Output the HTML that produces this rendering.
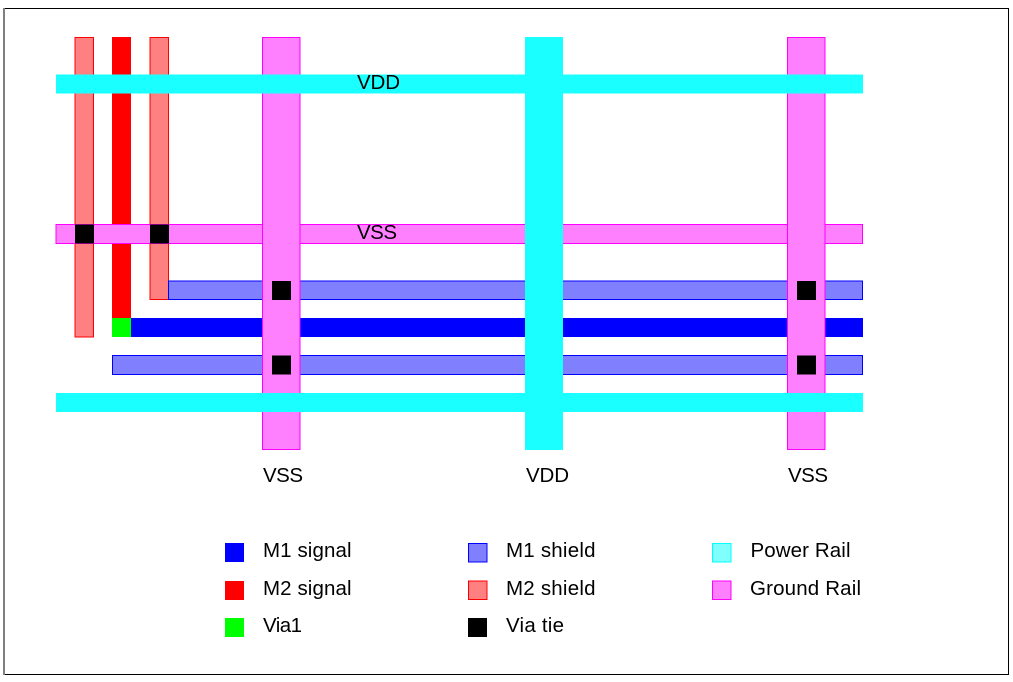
<!DOCTYPE html>
<html>
<head>
<meta charset="utf-8">
<style>
html,body{margin:0;padding:0;background:#fff;width:1013px;height:682px;overflow:hidden}
svg{display:block}
text{font-family:"Liberation Sans",sans-serif;font-size:20.5px;fill:#000}
.sr{fill:#ff8080;stroke:#ff0000;stroke-width:1}
.sb{fill:#8080ff;stroke:#0000ff;stroke-width:1}
.g{fill:#ff80ff;stroke:#ff00ff;stroke-width:1}
</style>
</head>
<body>
<svg width="1013" height="682" viewBox="0 0 1013 682" xmlns="http://www.w3.org/2000/svg">
<!-- Frame -->
<rect x="3" y="8" width="1006" height="1" fill="#000"/>
<rect x="3" y="674" width="1006" height="1" fill="#000"/>
<rect x="1008" y="8" width="1" height="667" fill="#000"/>
<rect x="3" y="8" width="2" height="667" fill="#808080"/>

<!-- M2 -->
<rect class="sr" x="75" y="37.5" width="18.5" height="299.5"/>
<rect class="sr" x="150" y="37.5" width="18.5" height="262"/>
<rect x="112" y="37" width="19" height="282" fill="#ff0000"/>

<!-- M1 -->
<rect class="sb" x="168.5" y="281" width="694" height="18.5"/>
<rect x="112" y="318" width="751" height="19" fill="#0000ff"/>
<rect class="sb" x="112.5" y="355.5" width="750" height="19"/>
<rect x="112" y="318" width="19" height="19" fill="#00ff00"/>

<!-- VSS horizontal -->
<rect class="g" x="56" y="224.5" width="806.5" height="19"/>
<rect x="75" y="224.5" width="19" height="19" fill="#000"/>
<rect x="150" y="224.5" width="19" height="19" fill="#000"/>

<!-- VSS vertical -->
<rect class="g" x="262.5" y="37.5" width="37.5" height="412"/>
<rect class="g" x="787.5" y="37.5" width="37.5" height="412"/>
<rect x="272" y="281" width="19" height="19" fill="#000"/>
<rect x="272" y="355.5" width="19" height="19" fill="#000"/>
<rect x="797" y="281" width="19" height="19" fill="#000"/>
<rect x="797" y="355.5" width="19" height="19" fill="#000"/>

<!-- VDD -->
<rect x="525" y="37" width="38" height="413" fill="#1affff"/>
<rect x="56" y="74.5" width="807" height="19" fill="#1affff"/>
<rect x="56" y="393" width="807" height="19" fill="#1affff"/>

<text x="357" y="89" textLength="43">VDD</text>
<text x="357" y="239" textLength="40">VSS</text>
<text x="263" y="482" textLength="40">VSS</text>
<text x="526" y="482" textLength="43">VDD</text>
<text x="788" y="482" textLength="40">VSS</text>

<!-- Legend -->
<rect x="225" y="543" width="19" height="19" fill="#0000ff"/>
<rect x="225" y="581" width="19" height="19" fill="#ff0000"/>
<rect x="225" y="618" width="19" height="19" fill="#00ff00"/>
<text x="263" y="557" textLength="88.5">M1 signal</text>
<text x="263" y="595" textLength="88.5">M2 signal</text>
<text x="263" y="632" textLength="39">Via1</text>

<rect class="sb" x="468.5" y="543.5" width="18.5" height="18.5"/>
<rect class="sr" x="468.5" y="581" width="18.5" height="18.5"/>
<rect x="468" y="618" width="19" height="19" fill="#000"/>
<text x="506" y="557" textLength="89.5">M1 shield</text>
<text x="506" y="595" textLength="89.5">M2 shield</text>
<text x="506" y="632" textLength="58">Via tie</text>

<rect x="712.5" y="543.5" width="18.5" height="18.5" fill="#80ffff" stroke="#00ffff" stroke-width="1"/>
<rect class="g" x="712.5" y="581" width="18.5" height="18.5"/>
<text x="750.5" y="557" textLength="100">Power Rail</text>
<text x="750" y="595" textLength="111">Ground Rail</text>
</svg>
</body>
</html>
